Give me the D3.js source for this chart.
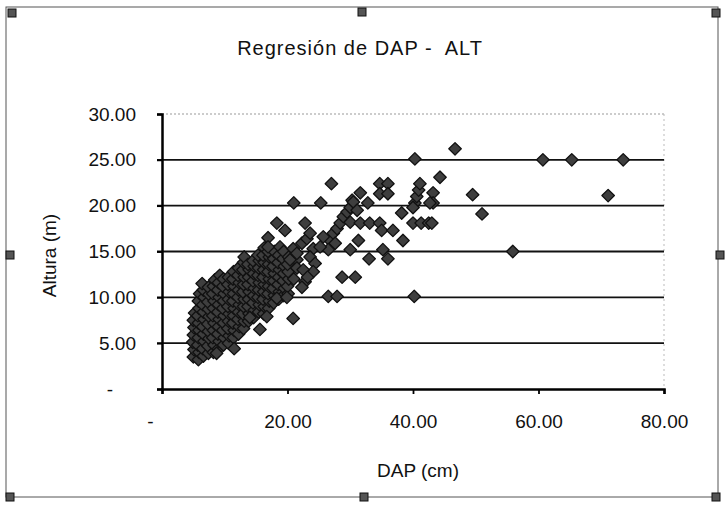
<!DOCTYPE html>
<html>
<head>
<meta charset="utf-8">
<script src="https://cdn.jsdelivr.net/npm/d3@7"></script>
<style>
body{margin:0;background:#fff;}
text{font-family:"Liberation Sans",Arial,sans-serif;fill:#111;}
</style>
</head>
<body>
<div id="chart"></div>
<script>
// axis ticks
var xTicks = [0, 20, 40, 60, 80];
var yTicks = [0, 5, 10, 15, 20, 25, 30];

// [DAP cm, Altura m]
// the dense blob of small trees
var smallTrees = [
 [5.0,3.5],[5.1,4.3],[4.9,5.1],[5.0,5.9],[5.1,6.7],[5.0,7.5],[5.2,8.3],
 [5.8,3.2],[5.9,4.0],[5.7,4.8],[5.8,5.6],[5.9,6.4],[5.8,7.2],[5.7,8.0],[5.9,8.8],[5.8,9.6],[6.0,10.4],
 [6.6,3.6],[6.5,4.4],[6.7,5.2],[6.6,6.0],[6.5,6.8],[6.7,7.6],[6.6,8.4],[6.5,9.2],[6.7,10.0],[6.6,10.8],[6.4,11.5],
 [7.4,3.9],[7.3,4.7],[7.5,5.5],[7.4,6.3],[7.3,7.1],[7.5,7.9],[7.4,8.7],[7.3,9.5],[7.5,10.3],[7.4,11.1],
 [8.2,4.0],[8.3,4.8],[8.1,5.6],[8.2,6.4],[8.3,7.2],[8.1,8.0],[8.2,8.8],[8.3,9.6],[8.1,10.4],[8.2,11.2],[8.4,11.9],
 [9.0,4.4],[9.1,5.2],[8.9,6.0],[9.0,6.8],[9.1,7.6],[8.9,8.4],[9.0,9.2],[9.1,10.0],[8.9,10.8],[9.0,11.6],[9.2,12.4],
 [9.8,4.8],[9.9,5.6],[9.7,6.4],[9.8,7.2],[9.9,8.0],[9.7,8.8],[9.8,9.6],[9.9,10.4],[9.7,11.2],[9.8,12.0],
 [10.6,5.0],[10.7,5.8],[10.5,6.6],[10.6,7.4],[10.7,8.2],[10.5,9.0],[10.6,9.8],[10.7,10.6],[10.5,11.4],[10.6,12.2],
 [11.4,5.6],[11.5,6.4],[11.3,7.2],[11.4,8.0],[11.5,8.8],[11.3,9.6],[11.4,10.4],[11.5,11.2],[11.3,12.0],[11.4,12.8],
 [12.2,6.0],[12.3,6.8],[12.1,7.6],[12.2,8.4],[12.3,9.2],[12.1,10.0],[12.2,10.8],[12.3,11.6],[12.1,12.4],[12.2,13.2],
 [13.0,6.6],[13.1,7.4],[12.9,8.2],[13.0,9.0],[13.1,9.8],[12.9,10.6],[13.0,11.4],[13.1,12.2],[12.9,13.0],[13.0,13.8],[13.1,14.4],
 [13.8,7.4],[13.9,8.2],[13.7,9.0],[13.8,9.8],[13.9,10.6],[13.7,11.4],[13.8,12.2],[13.9,13.0],[13.7,13.6],
 [14.6,7.8],[14.7,8.6],[14.5,9.4],[14.6,10.2],[14.7,11.0],[14.5,11.8],[14.6,12.6],[14.7,13.4],[14.5,14.0],
 [15.4,8.4],[15.5,9.2],[15.3,10.0],[15.4,10.8],[15.5,11.6],[15.3,12.4],[15.4,13.2],[15.5,14.0],[15.3,14.6],
 [16.2,8.2],[16.3,9.0],[16.1,9.8],[16.2,10.6],[16.3,11.4],[16.1,12.2],[16.2,13.0],[16.3,13.8],[16.1,14.6],[16.3,15.4],
 [17.0,8.8],[17.1,9.6],[16.9,10.4],[17.0,11.2],[17.1,12.0],[16.9,12.8],[17.0,13.6],[17.1,14.4],[16.9,15.0],
 [17.8,9.4],[17.9,10.2],[17.7,11.0],[17.8,11.8],[17.9,12.6],[17.7,13.4],[17.8,14.2],[17.9,15.0],
 [18.6,9.8],[18.7,10.6],[18.5,11.4],[18.6,12.2],[18.7,13.0],[18.5,13.8],[18.6,14.6],[18.8,15.5],
 [19.4,10.2],[19.5,11.0],[19.3,11.8],[19.4,12.6],[19.5,13.4],[19.3,14.2],[19.4,15.0],
 [20.1,10.4],[20.0,11.2],[20.2,12.0],[20.1,12.8],[20.0,13.6],[20.2,14.4],
 [8.7,3.9],[11.5,4.4],[15.6,6.5],[14.0,7.8],[16.7,7.9],[18.3,9.9],[19.9,10.0],
 [16.9,16.5],[16.9,15.5],[18.3,18.1],[19.6,17.3]
];

// the trees from about 20 to 35 cm
var midTrees = [
 [20.9,7.7],[20.9,15.3],[22.3,15.9],[23.1,16.4],[23.6,17.0],[22.8,18.1],[24.1,15.3],
 [23.6,14.4],[24.4,13.7],[24.1,12.8],[22.8,11.7],[22.3,11.1],[21.5,14.1],[20.4,14.1],
 [21.5,13.2],[21.5,14.8],[22.5,13.0],[23.2,12.2],[21.0,12.0],[21.0,20.3],[25.3,20.3],
 [27.0,22.4],[26.8,16.2],[27.3,17.0],[27.9,17.5],[28.4,18.1],[28.9,18.8],[29.5,19.3],
 [30.0,19.8],[30.3,20.6],[30.5,20.4],[31.1,19.5],[30.0,18.2],[31.6,18.1],[31.3,16.2],
 [30.0,15.2],[27.6,15.9],[26.5,15.2],[25.7,16.6],[25.2,15.5],[28.7,12.2],[30.8,12.2],
 [26.5,10.1],[27.9,10.1],[31.6,21.4],[32.8,20.3],[33.1,18.1],[33.0,14.2]
];

// the big trees, 34 cm and more
var largeTrees = [
 [34.7,22.4],[36.0,22.4],[34.7,21.3],[36.0,21.3],[34.7,18.1],[35.0,17.3],[36.8,17.3],
 [35.2,15.2],[36.0,14.2],[38.4,16.2],[38.2,19.2],[40.0,18.1],[41.3,18.1],[42.5,18.1],
 [40.3,20.3],[40.0,19.8],[40.6,21.0],[40.9,21.7],[41.1,22.4],[43.2,21.4],[43.2,20.3],
 [42.7,20.3],[43.0,18.1],[44.3,23.1],[40.3,25.1],[40.2,10.1],[46.7,26.2],[49.5,21.2],
 [51.0,19.1],[55.9,15.0],[60.7,25.0],[65.3,25.0],[71.1,21.1],[73.5,25.0]
];

var W = 725, H = 505;
var plotLeft = 162, plotRight = 664, plotTop = 114, plotBottom = 389;

var svg = d3.select("#chart").append("svg")
  .attr("width", W)
  .attr("height", H);

var x = d3.scaleLinear().domain([0, 80]).range([plotLeft, plotRight]);
var y = d3.scaleLinear().domain([0, 30]).range([plotBottom, plotTop]);
var fmt = d3.format(".2f");

// outer frame of the chart object
svg.append("rect")
  .attr("x", 6).attr("y", 7)
  .attr("width", 712).attr("height", 490)
  .attr("fill", "none")
  .attr("stroke", "#555")
  .attr("stroke-width", 1);

// plot area border (faint, dotted, top and right)
svg.append("line")
  .attr("x1", plotLeft).attr("x2", plotRight)
  .attr("y1", y(30)).attr("y2", y(30))
  .attr("stroke", "#999").attr("stroke-dasharray", "2,2");
svg.append("line")
  .attr("x1", plotRight).attr("x2", plotRight)
  .attr("y1", y(30)).attr("y2", y(0))
  .attr("stroke", "#bbb").attr("stroke-dasharray", "2,3");

// gridlines
svg.append("g")
  .selectAll("line")
  .data(yTicks.filter(function(d){ return d > 0 && d < 30; }))
  .enter().append("line")
  .attr("x1", plotLeft - 5).attr("x2", plotRight)
  .attr("y1", function(d){ return y(d); })
  .attr("y2", function(d){ return y(d); })
  .attr("stroke", "#111")
  .attr("stroke-width", 1.8);

// points
var allTrees = smallTrees.concat(midTrees, largeTrees);
var marker = d3.symbol().type(d3.symbolSquare).size(78);
svg.append("g")
  .selectAll("path")
  .data(allTrees)
  .enter().append("path")
  .attr("d", marker)
  .attr("transform", function(d){ return "translate(" + x(d[0]) + "," + y(d[1]) + ") rotate(45)"; })
  .attr("fill", "#3e3e3e")
  .attr("stroke", "#111")
  .attr("stroke-width", 1.3)
  .attr("stroke-linejoin", "round");

// axes
var yAxis = svg.append("g")
  .attr("transform", "translate(" + plotLeft + ",0)")
  .call(d3.axisLeft(y).tickValues(yTicks).tickSize(5).tickPadding(21)
    .tickFormat(function(d){ return d === 0 ? "-" : fmt(d); }));
var xAxis = svg.append("g")
  .attr("transform", "translate(0," + plotBottom + ")")
  .call(d3.axisBottom(x).tickValues(xTicks).tickSize(5).tickPadding(21)
    .tickFormat(function(d){ return d === 0 ? "-" : fmt(d); }));

[yAxis, xAxis].forEach(function(g){
  g.select(".domain").attr("stroke", "#000").attr("stroke-width", 2.5);
  g.selectAll(".tick line").attr("stroke", "#000").attr("stroke-width", 1.8);
  g.selectAll(".tick text")
    .style("font-family", '"Liberation Sans", Arial, sans-serif')
    .style("font-size", "19px")
    .attr("fill", "#111");
});
yAxis.selectAll(".tick text").filter(function(d){ return d === 0; })
  .attr("text-anchor", "middle").attr("x", -52);
xAxis.selectAll(".tick text").filter(function(d){ return d === 0; })
  .attr("dx", -12);

// titles
svg.append("text")
  .attr("x", 360).attr("y", 55)
  .attr("text-anchor", "middle")
  .style("font-size", "20px")
  .style("letter-spacing", "1px")
  .style("white-space", "pre")
  .text("Regresión de DAP -  ALT");

svg.append("text")
  .attr("x", (plotLeft + plotRight) / 2 + 5).attr("y", 477)
  .attr("text-anchor", "middle")
  .style("font-size", "19px")
  .text("DAP (cm)");

svg.append("text")
  .attr("transform", "translate(56," + ((plotTop + plotBottom) / 2 + 4) + ") rotate(-90)")
  .attr("text-anchor", "middle")
  .style("font-size", "19px")
  .text("Altura (m)");

// selection handles of the chart object
var handles = [[12,13],[362,12],[716,13],[10,255],[720,255],[10,497],[364,497],[716,497]];
svg.append("g")
  .selectAll("rect")
  .data(handles)
  .enter().append("rect")
  .attr("x", function(d){ return d[0] - 4; })
  .attr("y", function(d){ return d[1] - 4; })
  .attr("width", 8).attr("height", 8)
  .attr("fill", "#555")
  .attr("stroke", "#111");
</script>
</body>
</html>
